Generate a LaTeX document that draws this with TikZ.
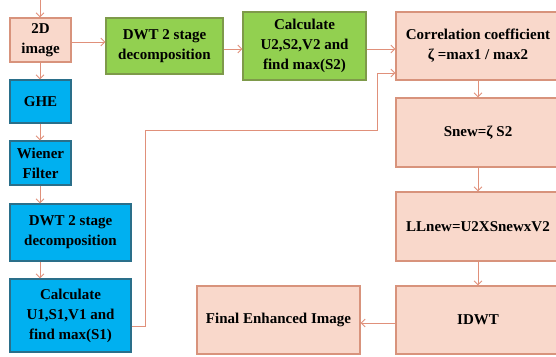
\documentclass[tikz,border=0pt]{standalone}
\usepackage{fontspec}
\setmainfont{Liberation Serif}
\usetikzlibrary{arrows.meta,calc}
\definecolor{salfill}{HTML}{F9D8CB}
\definecolor{saldraw}{HTML}{D8937C}
\definecolor{grfill}{HTML}{92D050}
\definecolor{grdraw}{HTML}{7E9A4A}
\definecolor{blfill}{HTML}{00B0F0}
\definecolor{bldraw}{HTML}{2A6F8A}
\definecolor{arr}{HTML}{E0907A}
\tikzset{
  box/.style={rectangle, line width=1.1pt, align=center, inner sep=1pt,
    font=\fontsize{15}{20}\selectfont\bfseries},
  sal/.style={box, fill=salfill, draw=saldraw},
  grn/.style={box, fill=grfill, draw=grdraw},
  blu/.style={box, fill=blfill, draw=bldraw},
  conn/.style={draw=arr, line width=0.9pt, -{Straight Barb[length=4pt,width=8pt]}},
}
\begin{document}
\begin{tikzpicture}[x=1pt,y=-1pt]
\useasboundingbox (0,0) rectangle (556,356);
\clip (0,0) rectangle (556,356);
\node[sal, minimum width=61pt, minimum height=44pt] (img) at (40.5,40) {2D\\image};
\node[blu, minimum width=61pt, minimum height=43pt] (ghe) at (40.5,101.5) {GHE};
\node[blu, minimum width=61pt, minimum height=44pt] (wien) at (40.5,163) {Wiener\\Filter};
\node[blu, minimum width=121pt, minimum height=57pt] (dwt1) at (70.5,232.5) {DWT 2 stage\\decomposition};
\node[blu, minimum width=121pt, minimum height=73pt] (calc1) at (70.5,315.5) {Calculate\\U1,S1,V1 and\\find max(S1)};
\node[grn, minimum width=117pt, minimum height=56pt] (dwt2) at (164.5,46) {DWT 2 stage\\decomposition};
\node[grn, minimum width=123pt, minimum height=68pt] (calc2) at (304.5,46) {Calculate\\U2,S2,V2 and\\find max(S2)};
\node[sal, minimum width=164pt, minimum height=68pt] (corr) at (478,46) {Correlation coefficient\\ζ =max1 / max2};
\node[sal, minimum width=164pt, minimum height=69pt] (snew) at (478,132.5) {Snew=ζ S2};
\node[sal, minimum width=164pt, minimum height=69pt] (llnew) at (478,226.5) {LLnew=U2XSnewxV2};
\node[sal, minimum width=164pt, minimum height=68pt] (idwt) at (478,320) {IDWT};
\node[sal, minimum width=163pt, minimum height=68pt] (final) at (278.5,320) {Final Enhanced Image};
\coordinate (start) at (40,0);
\draw[conn] (start) -- (img.north -| start);
\draw[conn] (img.south -| start) -- (ghe.north -| start);
\draw[conn] (ghe.south -| start) -- (wien.north -| start);
\draw[conn] (wien.south -| start) -- (dwt1.north -| start);
\draw[conn] (dwt1.south -| start) -- (calc1.north -| start);
\draw[conn] ([yshift=-2pt]img.east) -- ([yshift=-2pt]img.east -| dwt2.west);
\draw[conn] ([yshift=-3pt]dwt2.east) -- ([yshift=-3pt]dwt2.east -| calc2.west);
\draw[conn] ([yshift=-3pt]calc2.east) -- ([yshift=-3pt]calc2.east -| corr.west);
\coordinate (a1) at (145,130);
\coordinate (a2) at (377,73);
\draw[conn] ([yshift=-10.5pt]calc1.east) -| (a1) -| (a2) -- (a2 -| corr.west);
\draw[conn] (corr) -- (snew);
\draw[conn] (snew) -- (llnew);
\draw[conn] (llnew) -- (idwt);
\draw[conn] ([yshift=-3pt]idwt.west) -- ([yshift=-3pt]idwt.west -| final.east);
\end{tikzpicture}
\end{document}
